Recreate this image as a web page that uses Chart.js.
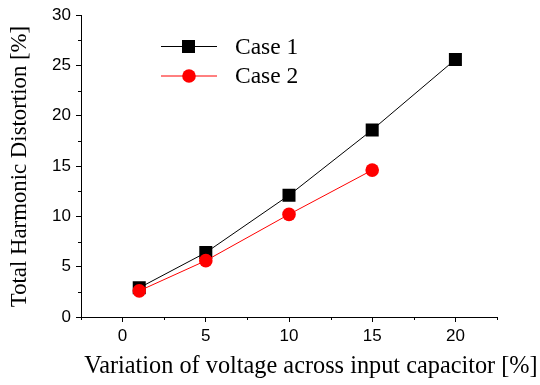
<!DOCTYPE html>
<html>
<head>
<meta charset="utf-8">
<script src="https://cdn.jsdelivr.net/npm/chart.js@4"></script>
<style>
  html, body { margin: 0; padding: 0; background: #fff; }
  #wrap { width: 540px; height: 385px; }
</style>
</head>
<body>
<div id="wrap"><canvas id="chartCanvas" width="540" height="385"></canvas></div>
<script>
// values
const voltageVariation = [1, 5, 10, 15, 20];
const case1THD = [2.9, 6.4, 12.1, 18.6, 25.6];
const case2THD = [2.6, 5.6, 10.2, 14.6];

const xTicks = [0, 5, 10, 15, 20];
const xMinorTicks = [-2.5, 2.5, 7.5, 12.5, 17.5, 22.5];
const yTicks = [0, 5, 10, 15, 20, 25, 30];
const yMinorTicks = [2.5, 7.5, 12.5, 17.5, 22.5, 27.5];

const seriesNames = ["Case 1", "Case 2"];
const xTitle = "Variation of voltage across input capacitor [%]";
const yTitle = "Total Harmonic Distortion [%]";

const serif = "'Liberation Serif', 'Times New Roman', serif";
const sans = "'Liberation Sans', Arial, sans-serif";

function toPoints(xs, ys) {
  return ys.map((y, i) => ({ x: xs[i], y: y }));
}

// minor ticks, legend and axis titles
const extras = {
  id: "extras",
  afterDraw(chart) {
    const ctx = chart.ctx;
    const xs = chart.scales.x;
    const ys = chart.scales.y;
    const area = chart.chartArea;
    ctx.save();
    ctx.strokeStyle = "#000";
    ctx.lineWidth = 1;
    xMinorTicks.forEach((v) => {
      const px = Math.round(xs.getPixelForValue(v)) + 0.5;
      ctx.beginPath();
      ctx.moveTo(px, area.bottom);
      ctx.lineTo(px, area.bottom + 3);
      ctx.stroke();
    });
    yMinorTicks.forEach((v) => {
      const py = Math.round(ys.getPixelForValue(v)) + 0.5;
      ctx.beginPath();
      ctx.moveTo(area.left, py);
      ctx.lineTo(area.left - 3, py);
      ctx.stroke();
    });

    // legend
    const rows = [
      { name: seriesNames[0], color: "#000", style: "rect", y: 46.5 },
      { name: seriesNames[1], color: "#ff0000", style: "circle", y: 76 },
    ];
    rows.forEach((r) => {
      ctx.strokeStyle = r.color;
      ctx.lineWidth = 1;
      ctx.beginPath();
      ctx.moveTo(161, r.y);
      ctx.lineTo(217, r.y);
      ctx.stroke();
      ctx.fillStyle = r.color;
      if (r.style === "rect") {
        ctx.fillRect(182, r.y - 6.5, 13, 13);
      } else {
        ctx.beginPath();
        ctx.arc(189, r.y, 6.8, 0, Math.PI * 2);
        ctx.fill();
      }
      ctx.fillStyle = "#000";
      ctx.font = "23.5px " + serif;
      ctx.textAlign = "left";
      ctx.textBaseline = "middle";
      ctx.fillText(r.name, 235, r.y + 1);
    });

    // axis titles
    ctx.fillStyle = "#000";
    ctx.textAlign = "center";
    ctx.textBaseline = "middle";
    ctx.font = "24.3px " + serif;
    ctx.fillText(xTitle, 311, 367);
    ctx.font = "22.8px " + serif;
    ctx.translate(20, 166.5);
    ctx.rotate(-Math.PI / 2);
    ctx.fillText(yTitle, 0, 0);
    ctx.restore();
  },
};

const ctx = document.getElementById("chartCanvas").getContext("2d");
new Chart(ctx, {
  type: "line",
  data: {
    datasets: [
      {
        label: seriesNames[0],
        data: toPoints(voltageVariation, case1THD),
        borderColor: "#000",
        backgroundColor: "#000",
        borderWidth: 1,
        pointStyle: "rect",
        pointRadius: 9.2,
        pointBorderWidth: 0,
        order: 1,
      },
      {
        label: seriesNames[1],
        data: toPoints(voltageVariation, case2THD),
        borderColor: "#ff0000",
        backgroundColor: "#ff0000",
        borderWidth: 1,
        pointStyle: "circle",
        pointRadius: 6.8,
        pointBorderWidth: 0,
        order: 0,
      },
    ],
  },
  options: {
    responsive: false,
    animation: false,
    layout: { padding: { top: 13, right: 43, left: 0, bottom: 0 } },
    plugins: {
      legend: { display: false },
      tooltip: { enabled: false },
    },
    scales: {
      x: {
        type: "linear",
        min: -2.5,
        max: 22.5,
        afterFit: (scale) => { scale.height = 68; },
        afterBuildTicks: (scale) => { scale.ticks = xTicks.map((v) => ({ value: v })); },
        grid: { drawOnChartArea: false, tickLength: 5, tickColor: "#000" },
        border: { color: "#000", width: 1 },
        ticks: {
          color: "#000",
          padding: 4,
          maxRotation: 0,
          font: { family: sans, size: 17 },
        },
      },
      y: {
        type: "linear",
        min: 0,
        max: 30,
        afterFit: (scale) => { scale.width = 81; },
        afterBuildTicks: (scale) => { scale.ticks = yTicks.map((v) => ({ value: v })); },
        grid: { drawOnChartArea: false, tickLength: 5, tickColor: "#000" },
        border: { color: "#000", width: 1 },
        ticks: {
          color: "#000",
          padding: 5,
          font: { family: sans, size: 17 },
        },
      },
    },
  },
  plugins: [extras],
});
</script>
</body>
</html>
